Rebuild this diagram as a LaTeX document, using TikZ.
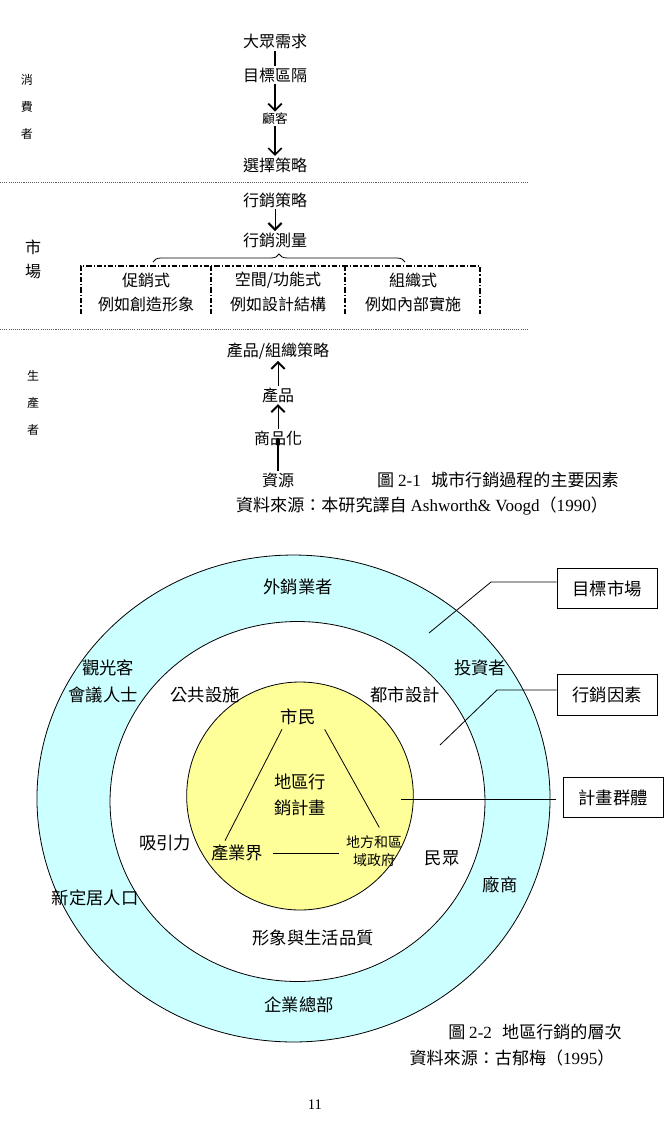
\documentclass[tikz,border=0pt]{standalone}
\usepackage{fontspec}
\setmainfont{Noto Sans CJK TC}
\newfontfamily\latinserif{Liberation Serif}
\usetikzlibrary{arrows.meta,decorations.pathreplacing}
\definecolor{ringcyan}{RGB}{204,255,255}
\definecolor{coreyellow}{RGB}{255,255,153}
\definecolor{dotgray}{RGB}{90,90,90}
\begin{document}
\begin{tikzpicture}[x=0.75pt,y=-0.75pt,
  lbl/.style={inner sep=1pt, font=\fontsize{12}{14}\selectfont},
  smalllbl/.style={inner sep=1pt, font=\fontsize{9.5}{11}\selectfont},
  sidelbl/.style={inner sep=0pt, font=\fontsize{9}{10}\selectfont},
  bigside/.style={inner sep=0pt, font=\fontsize{12}{14}\selectfont},
  ring/.style={inner sep=1pt, font=\fontsize{13}{15}\selectfont},
  ringsmall/.style={inner sep=0pt, font=\fontsize{10.5}{13}\selectfont, align=center},
  caption/.style={inner sep=0pt, font=\fontsize{12.8}{14}\selectfont},
  dotline/.style={dotgray, line width=0.7pt, dash pattern=on 0.8pt off 0.8pt},
  ddot/.style={line width=0.8pt, dash pattern=on 4pt off 1.5pt on 1pt off 1.5pt},
  darr/.style={line width=1.3pt, -{Straight Barb[length=5pt,width=10pt,line width=1.3pt]}},
  tarr/.style={line width=0.6pt, -{Straight Barb[length=5pt,width=10pt,line width=1.5pt]}},
  callbox/.style={draw, line width=0.6pt, inner sep=0pt, minimum width=75pt, minimum height=30.5pt, font=\fontsize{13}{15}\selectfont},
  callline/.style={line width=0.6pt}
]
\useasboundingbox (0,0) rectangle (666,1134);

% ---------- Figure 2-1 ----------
% consumer part
\node[sidelbl] (s1) at (27,80) {消};
\node[sidelbl] (s2) at (27,107) {費};
\node[sidelbl] (s3) at (27,134) {者};
\node[lbl] (dz) at (275,42) {大眾需求};
\node[lbl] (mb) at (275,75) {目標區隔};
\node[smalllbl] (gk) at (275,119) {顧客};
\node[lbl] (xz) at (275,165) {選擇策略};
\draw[line width=1.3pt] (dz) -- (mb);
\draw[darr] (mb) -- (gk);
\draw[darr] (gk) -- (xz);

\coordinate (d1a) at (0,182);
\coordinate (d1b) at (527,182);
\draw[dotline] (d1a) -- (d1b);

% market part
\node[bigside] (m1) at (33,247) {市};
\node[bigside] (m2) at (33,272) {場};
\node[lbl] (xc) at (275,200) {行銷策略};
\node[lbl] (xm) at (275,240) {行銷測量};
\draw[tarr] (xc) -- (xm);
\coordinate (bra) at (153,262);
\coordinate (brb) at (405,262);
\draw[line width=0.6pt, decorate, decoration={brace, amplitude=6pt}] (bra) -- (brb);

\coordinate (fa) at (81,314);
\coordinate (fb) at (81,266);
\coordinate (fc) at (480,266);
\coordinate (fd) at (480,314);
\draw[ddot] (fa) -- (fb) -- (fc) -- (fd);
\coordinate (v1a) at (211,266);
\coordinate (v1b) at (211,314);
\coordinate (v2a) at (345,266);
\coordinate (v2b) at (345,314);
\draw[ddot] (v1a) -- (v1b);
\draw[ddot] (v2a) -- (v2b);

\node[lbl] (c1a) at (146,280) {促銷式};
\node[lbl] (c1b) at (146,304) {例如創造形象};
\node[lbl] (c2a) at (278,280) {空間/功能式};
\node[lbl] (c2b) at (278,304) {例如設計結構};
\node[lbl] (c3a) at (413,280) {組織式};
\node[lbl] (c3b) at (413,304) {例如內部實施};

\coordinate (d2a) at (0,329);
\coordinate (d2b) at (527,329);
\draw[dotline] (d2a) -- (d2b);

% producer part
\node[sidelbl] (p1) at (33,376) {生};
\node[sidelbl] (p2) at (33,403) {產};
\node[sidelbl] (p3) at (33,430) {者};
\node[lbl] (cz) at (278,351) {產品/組織策略};
\node[lbl] (cp) at (278,395) {產品};
\node[lbl] (sp) at (278,438) {商品化};
\node[lbl] (zy) at (278,480) {資源};
\draw[tarr] (cp) -- (cz);
\draw[tarr] (sp) -- (cp);
\draw[line width=1.3pt] (zy) -- (sp.center);

\node[caption] (cap1) at (498,480) {圖 {\latinserif 2-1}\hspace{0.6em}城市行銷過程的主要因素};
\node[caption] (src1) at (422,506) {資料來源：本研究譯自 {\latinserif Ashworth\& Voogd}（{\latinserif 1990}）};

% ---------- Figure 2-2 ----------
\draw[line width=0.6pt, fill=ringcyan] (293.5,798.5) ellipse [x radius=192.4pt, y radius=182.6pt];
\draw[line width=0.6pt, fill=white] (297.5,801.5) ellipse [x radius=140.6pt, y radius=135pt];
\draw[line width=0.6pt, fill=coreyellow] (300,796) ellipse [x radius=85pt, y radius=85.5pt];

\node[ring] (wx) at (298,587) {外銷業者};
\node[ring] (gg) at (108,668) {觀光客};
\node[ring] (hy) at (103,695) {會議人士};
\node[ring] (tz) at (480,668) {投資者};
\node[ring] (gs) at (205,695) {公共設施};
\node[ring] (ds) at (405,695) {都市設計};
\node[ring] (sm) at (298,717) {市民};
\node[ring] (jh) at (300,782) {地區行};
\node[ring] (jh2) at (300,808) {銷計畫};
\node[ring] (xy) at (165,843) {吸引力};
\node[ring] (cy) at (237,853) {產業界};
\node[ringsmall] (df) at (374,851) {地方和區\\域政府};
\node[ring] (mz) at (442,858) {民眾};
\node[ring] (cs) at (500,885) {廠商};
\node[ring] (xd) at (95,898) {新定居人口};
\node[ring] (xx) at (313,938) {形象與生活品質};
\node[ring] (qy) at (299,1005) {企業總部};

\draw[line width=0.6pt] ([xshift=-12pt,yshift=-2pt]sm.south) -- ([xshift=-9pt,yshift=2pt]cy.north);
\draw[line width=0.6pt] ([xshift=20pt,yshift=-2pt]sm.south) -- ([xshift=4pt,yshift=6pt]df.north);
\draw[line width=0.6pt] ([xshift=6pt]cy.east) -- ([xshift=-5pt]cy.east -| df.west);

\node[callbox] (tm) at (607,588.5) {目標市場};
\node[callbox] (yx) at (607,695) {行銷因素};
\node[callbox] (jt) at (613,797.5) {計畫群體};
\coordinate (tmk) at (491,582);
\coordinate (tme) at (429,633);
\draw[callline] (tmk -| tm.west) -- (tmk) -- (tme);
\coordinate (yxk) at (497,690);
\coordinate (yxe) at (440,745);
\draw[callline] (yxk -| yx.west) -- (yxk) -- (yxe);
\coordinate (jte) at (401,799);
\draw[callline] ([xshift=-5pt]jte -| jt.west) -- (jte);

\node[caption] (cap2) at (535,1032) {圖 {\latinserif 2-2}\hspace{0.6em}地區行銷的層次};
\node[caption] (src2) at (512,1058) {資料來源：古郁梅（{\latinserif 1995}）};
\node[inner sep=0pt, font=\latinserif\fontsize{11}{13}\selectfont] (pg) at (315,1105) {11};
\end{tikzpicture}
\end{document}
